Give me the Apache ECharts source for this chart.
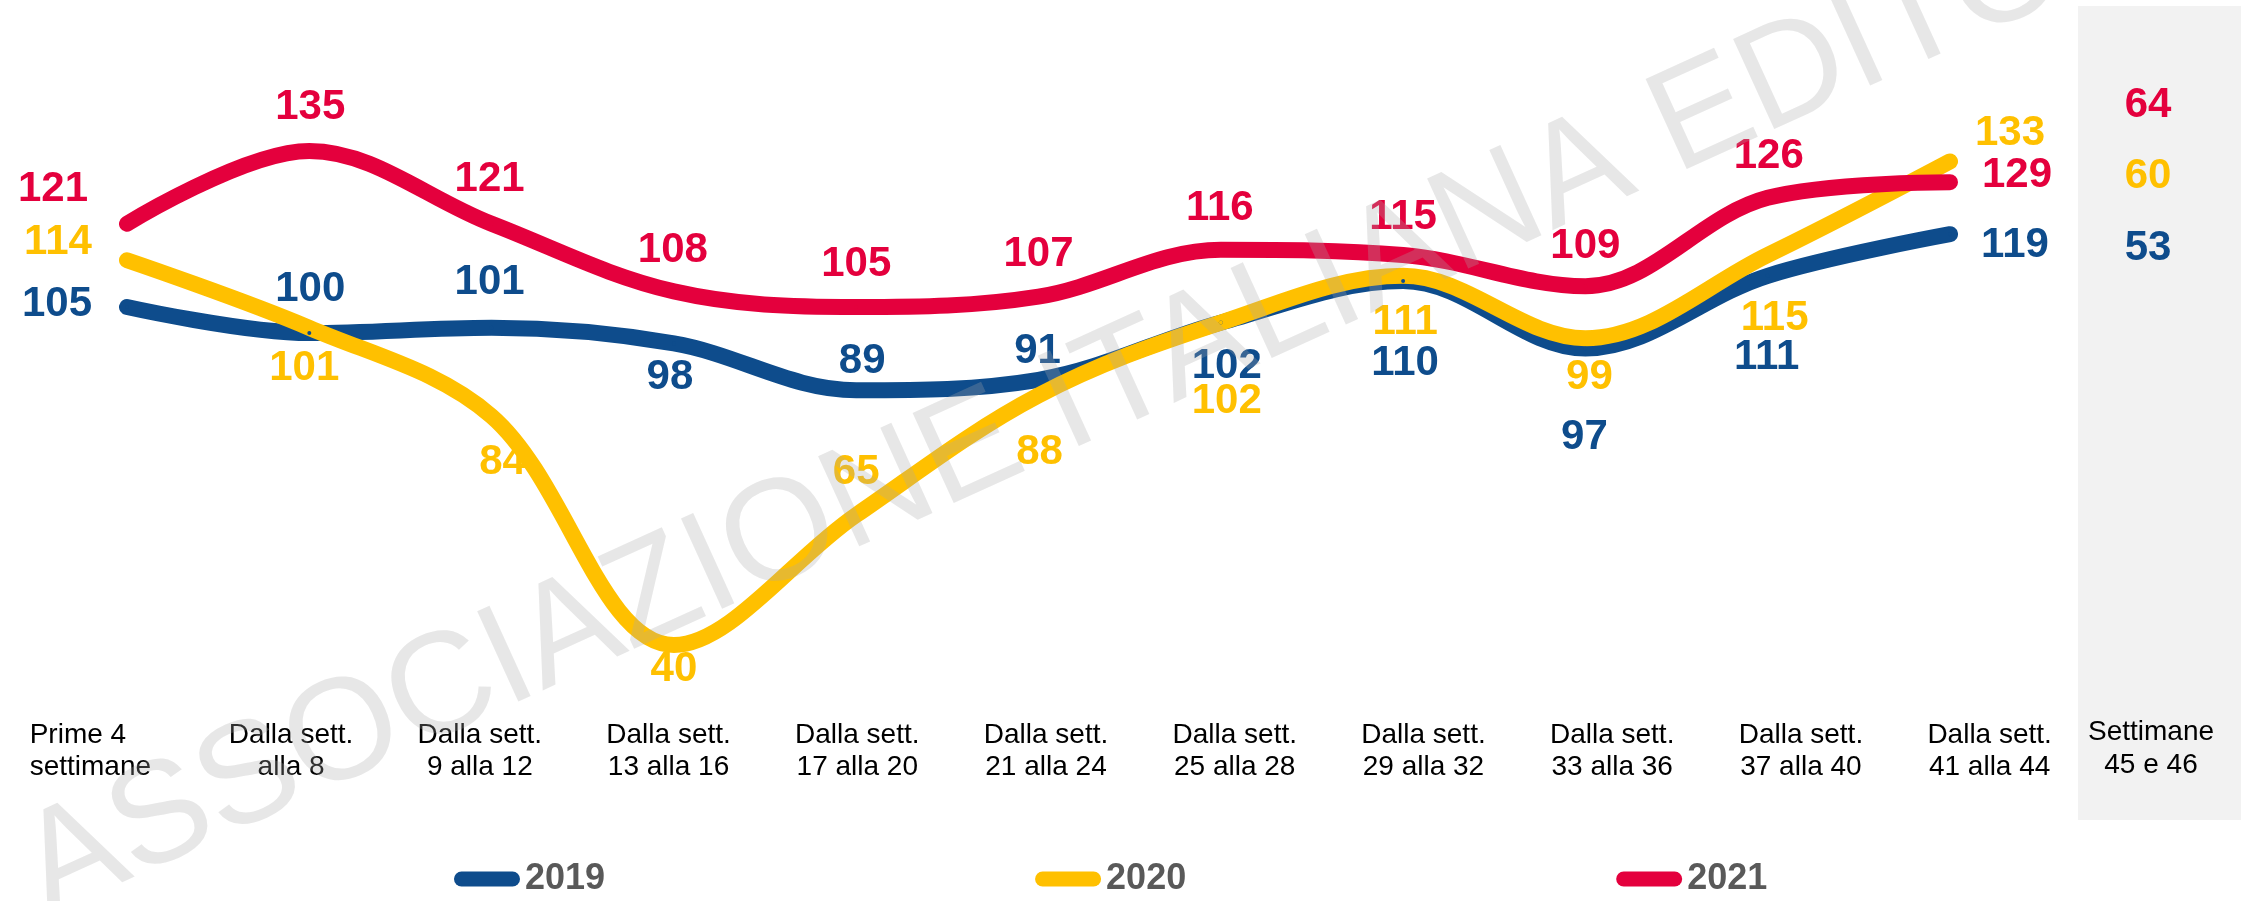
<!DOCTYPE html>
<html><head><meta charset="utf-8">
<script src="https://cdn.jsdelivr.net/npm/echarts@6/dist/echarts.min.js"></script>
<style>html,body{margin:0;padding:0;background:#fff}#c{width:2241px;height:901px}</style>
</head><body><div id="c"></div>
<script>
// ---- data ----
const categories = ['Prime 4\nsettimane', 'Dalla sett.\nalla 8', 'Dalla sett.\n9 alla 12', 'Dalla sett.\n13 alla 16',
  'Dalla sett.\n17 alla 20', 'Dalla sett.\n21 alla 24', 'Dalla sett.\n25 alla 28', 'Dalla sett.\n29 alla 32',
  'Dalla sett.\n33 alla 36', 'Dalla sett.\n37 alla 40', 'Dalla sett.\n41 alla 44'];
const lastPeriodLabel = 'Settimane\n45 e 46';
const years = ['2019', '2020', '2021'];
const values2019 = [105, 100, 101, 98, 89, 91, 102, 110, 97, 111, 119];
const values2020 = [114, 101, 84, 40, 65, 88, 102, 111, 99, 115, 133];
const values2021 = [121, 135, 121, 108, 105, 107, 116, 115, 109, 126, 129];
const lastPeriod2019 = 53;
const lastPeriod2020 = 60;
const lastPeriod2021 = 64;
const watermarkText = 'ASSOCIAZIONE ITALIANA EDITORI';

// ---- label placement (styles, kept apart from data) ----
const offsets2019 = [[-70,-3],[1,-44],[-2,-45],[-4,34],[6,-29],[-1,-28],[6,44],[2,82],[-1,89],[-1,82],[65,11]];
const offsets2020 = [[-69,-18],[-5,41],[11,46],[0,24],[0,-43],[1,57],[6,79],[2,47],[4,39],[7,63],[60,-28]];
const offsets2021 = [[-74,-34],[1,-44],[-2,-44],[-1,-41],[0,-43],[0,-42],[-1,-41],[0,-38],[0,-40],[1,-41],[67,-7]];

const colors = {'2019': '#0E4C8C', '2020': '#FFC000', '2021': '#E4003D'};
const FONT = '"Liberation Sans", Arial, sans-serif';

function makeSeries(name, vals, offs) {
  return {
    name: name, type: 'line', xAxisIndex: 0, yAxisIndex: 0,
    smooth: 0.35, symbol: 'circle', symbolSize: 4, showSymbol: true,
    itemStyle: {color: colors[name]},
    lineStyle: {width: 16, color: colors[name], cap: 'round', join: 'round'},
    label: {show: true, position: 'inside', color: colors[name], fontSize: 42, fontWeight: 'bold', fontFamily: FONT},
    emphasis: {disabled: true},
    data: vals.map((v, i) => ({value: v, label: {offset: offs[i]}}))
  };
}

const chart = echarts.init(document.getElementById('c'), null, {renderer: 'canvas'});
const labelFormatter = (val, idx) => idx === 0
  ? val.split('\n').map((s, k) => '{l|' + s + '}' + (k === 1 ? '{s| }' : '')).join('\n')
  : val;

chart.setOption({
  animation: false,
  backgroundColor: '#ffffff',
  grid: [
    {left: 127, right: 291, top: 21, bottom: 48},
    {left: 8, right: 157, top: 701, height: 10}
  ],
  xAxis: [
    {type: 'category', gridIndex: 0, data: categories, boundaryGap: false, show: false},
    {type: 'category', gridIndex: 1, data: categories, boundaryGap: true, position: 'bottom',
     axisLine: {show: false}, axisTick: {show: false}, splitLine: {show: false},
     axisLabel: {interval: 0, margin: 8, color: '#000000', fontSize: 28, lineHeight: 32, fontFamily: FONT,
       formatter: labelFormatter,
       rich: {
         l: {align: 'left', fontSize: 28, lineHeight: 32, color: '#000000', fontFamily: FONT},
         s: {width: 24, fontSize: 28, lineHeight: 32}
       }}}
  ],
  yAxis: [
    {type: 'value', gridIndex: 0, min: 0, max: 160, show: false},
    {type: 'value', gridIndex: 1, show: false}
  ],
  legend: {
    left: 449, top: 856, itemWidth: 66, itemHeight: 15, itemGap: 430,
    icon: 'path://M7.5 0H58.5A7.5 7.5 0 0 1 58.5 15H7.5A7.5 7.5 0 0 1 7.5 0Z',
    textStyle: {fontSize: 36, fontWeight: 'bold', color: '#595959', fontFamily: FONT},
    data: years
  },
  series: [
    makeSeries('2019', values2019, offsets2019),
    makeSeries('2020', values2020, offsets2020),
    makeSeries('2021', values2021, offsets2021)
  ],
  graphic: [
    {type: 'rect', z: 0, shape: {x: 2078, y: 6, width: 163, height: 814}, style: {fill: '#F2F2F2'}},
    {type: 'text', z: 5, x: 2151, y: 749, style: {text: lastPeriodLabel, fill: '#000000', fontSize: 28, lineHeight: 33,
      fontFamily: FONT, align: 'center', verticalAlign: 'middle'}},
    {type: 'text', z: 5, x: 2148, y: 105, style: {text: String(lastPeriod2021), fill: colors['2021'], fontSize: 42,
      fontWeight: 'bold', fontFamily: FONT, align: 'center', verticalAlign: 'middle'}},
    {type: 'text', z: 5, x: 2148, y: 176, style: {text: String(lastPeriod2020), fill: colors['2020'], fontSize: 42,
      fontWeight: 'bold', fontFamily: FONT, align: 'center', verticalAlign: 'middle'}},
    {type: 'text', z: 5, x: 2148, y: 248, style: {text: String(lastPeriod2019), fill: colors['2019'], fontSize: 42,
      fontWeight: 'bold', fontFamily: FONT, align: 'center', verticalAlign: 'middle'}},
    {type: 'text', z: 100, x: 31, y: 880, rotation: 24.5 * Math.PI / 180,
      style: {text: watermarkText, fill: 'rgba(170,170,170,0.28)', fontSize: 144, fontFamily: FONT,
        align: 'left', verticalAlign: 'middle'}}
  ]
});
</script></body></html>
